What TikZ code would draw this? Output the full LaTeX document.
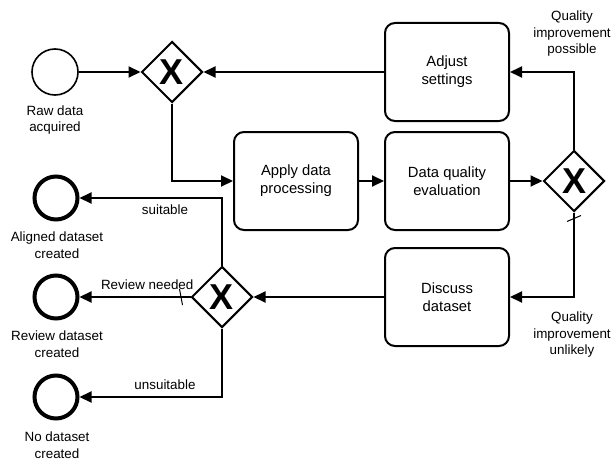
\documentclass[tikz,border=0pt]{standalone}
\usepackage{fontspec}
\setmainfont{Liberation Sans}
\usetikzlibrary{arrows.meta,shapes.geometric}
\tikzstyle{task}=[draw, line width=2pt, rounded corners=10pt, minimum width=124pt, minimum height=98pt, align=center, font=\fontsize{14.8}{18}\selectfont]
\tikzstyle{gateway}=[diamond, draw, line width=2pt, inner sep=0pt, minimum width=61pt, minimum height=61pt, font=\fontsize{36}{36}\selectfont\bfseries]
\tikzstyle{startEv}=[circle, draw, line width=1.6pt, inner sep=0pt, minimum size=46pt]
\tikzstyle{endEv}=[circle, draw, line width=4pt, inner sep=0pt, minimum size=43pt]
\tikzstyle{flow}=[line width=2pt, -{Triangle[length=12pt,width=11pt]}]
\tikzstyle{slash}=[line width=1pt]
\tikzstyle{lbl}=[align=center, inner sep=0pt]

\begin{document}
\begin{tikzpicture}[x=1pt, y=-1pt, font=\fontsize{13.4}{16.5}\selectfont]
			\useasboundingbox (0,0) rectangle (613,460);

			\node[startEv] (s) at (55, 72) {};
			\node[gateway] (g1) at (172, 72) {X};
			\node[task] (t1) at (296, 181) {Apply data\\processing};
			\node[task] (t2) at (447, 181) {Data quality\\evaluation};
			\node[task] (t3) at (447, 72) {Adjust\\settings};
			\node[task] (t4) at (447, 297) {Discuss\\dataset};
			\node[gateway] (g2) at (574, 181) {X};
			\node[gateway] (g3) at (222, 297) {X};
			\node[endEv] (e1) at (56, 198) {};
			\node[endEv] (e2) at (56, 297) {};
			\node[endEv] (e3) at (56, 397) {};

			% Event labels
			\node[lbl] (ls) at (55, 120) {Raw data\\acquired};
			\node[lbl] (le1) at (57, 245) {Aligned dataset\\created};
			\node[lbl] (le2) at (57, 344) {Review dataset\\created};
			\node[lbl] (le3) at (57, 445) {No dataset\\created};
			\node[lbl] (lp) at (572, 34) {Quality\\improvement\\possible};
			\node[lbl] (lu) at (572, 335) {Quality\\improvement\\unlikely};

			% Main line
			\draw[flow] (s)--(g1);
			\draw[flow] (g1.south) |- (t1);
			\draw[flow] (t1)--(t2);
			\draw[flow] (t2)--(g2);
			% Loop back
			\draw[flow] (g2.north) |- (t3);
			\draw[flow] (t3)--(g1);
			\draw[flow] (g2.south) |- (t4);
			\draw[flow] (t4)--(g3);
			% Outcomes
			\draw[flow] (g3.north) |- (e1) node[lbl, pos=0.7, below=6pt] (l1) {suitable};
			\draw[flow] (g3.west) -- (e2) node[lbl, pos=0.39, above=6pt] (l2) {Review needed};
			\draw[flow] (g3.south) |- (e3) node[lbl, pos=0.7, above=6pt] (l3) {unsuitable};

			% Default flow marks
			\draw[slash] ([shift={(-7,9)}]g2.south) -- ++(14,-6);
			\draw[slash] ([shift={(-11,-8)}]g3.west) -- ++(3,16);
		\end{tikzpicture}
\end{document}
